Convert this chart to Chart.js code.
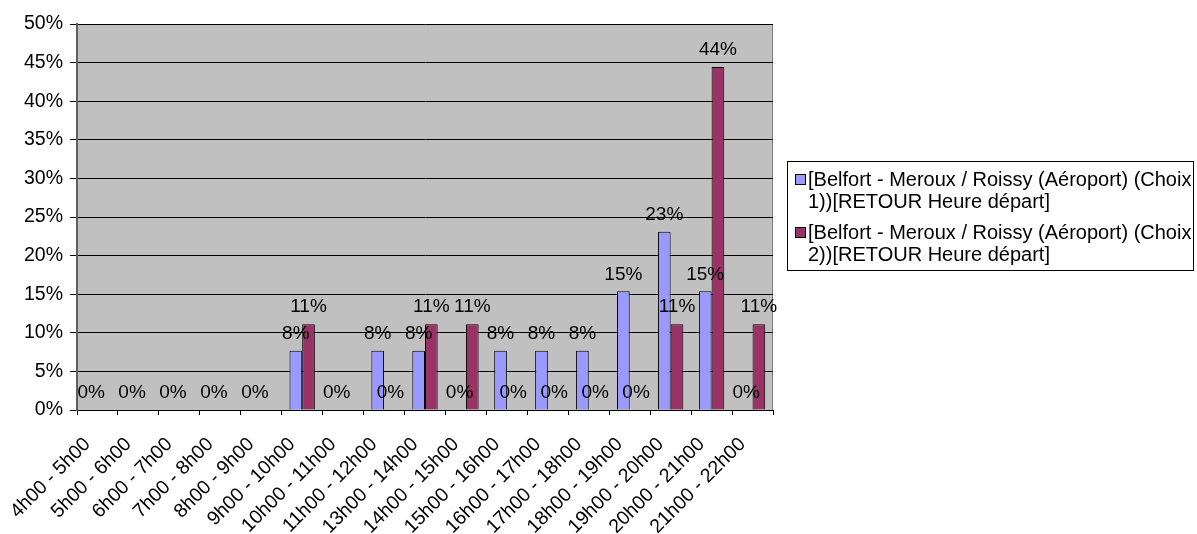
<!DOCTYPE html>
<html>
<head>
<meta charset="utf-8">
<script src="https://cdn.jsdelivr.net/npm/chart.js@4/dist/chart.umd.min.js"></script>
<style>
  body { margin: 0; background: #fff; }
  #wrap { width: 1197px; height: 534px; }
</style>
</head>
<body>
<div id="wrap"><canvas id="grafico" width="1197" height="534"></canvas></div>
<script>
// categories (tranches horaires)
const heures = ['4h00 - 5h00', '5h00 - 6h00', '6h00 - 7h00', '7h00 - 8h00', '8h00 - 9h00',
  '9h00 - 10h00', '10h00 - 11h00', '11h00 - 12h00', '13h00 - 14h00', '14h00 - 15h00',
  '15h00 - 16h00', '16h00 - 17h00', '17h00 - 18h00', '18h00 - 19h00', '19h00 - 20h00',
  '20h00 - 21h00', '21h00 - 22h00'];

// valeurs en %
const choix1 = [0, 0, 0, 0, 0, 7.69, 0, 7.69, 7.69, 0, 7.69, 7.69, 7.69, 15.38, 23.08, 15.38, 0];
const choix2 = [null, null, null, null, null, 11.11, null, 0, 11.11, 11.11, 0, 0, 0, 0, 11.11, 44.44, 11.11];

const nomChoix1 = ['[Belfort - Meroux / Roissy (Aéroport) (Choix', '1))[RETOUR Heure départ]'];
const nomChoix2 = ['[Belfort - Meroux / Roissy (Aéroport) (Choix', '2))[RETOUR Heure départ]'];

const police = "'Liberation Sans', Arial, sans-serif";

// fond gris de la zone de tracé
const fondGris = {
  id: 'fondGris',
  beforeDraw(chart) {
    const { ctx, chartArea: a } = chart;
    ctx.save();
    ctx.fillStyle = '#C0C0C0';
    ctx.fillRect(a.left, a.top, a.right - a.left, a.bottom - a.top);
    ctx.strokeStyle = '#808080';
    ctx.lineWidth = 1;
    ctx.strokeRect(a.left + 0.5, a.top + 0.5, a.right - a.left - 1, a.bottom - a.top);
    ctx.restore();
  }
};

// étiquettes au dessus des barres
const etiquettes = {
  id: 'etiquettes',
  afterDatasetsDraw(chart) {
    const ctx = chart.ctx;
    ctx.save();
    ctx.font = '19px ' + police;
    ctx.fillStyle = '#000';
    ctx.textAlign = 'center';
    ctx.textBaseline = 'middle';
    chart.data.datasets.forEach((ds, i) => {
      chart.getDatasetMeta(i).data.forEach((el, j) => {
        const v = ds.data[j];
        if (v === null) return;
        ctx.fillText(Math.round(v) + '%', el.x, el.y - 17);
      });
    });
    ctx.restore();
  }
};

// légende dessinée à la main (texte sur deux lignes)
const legende = {
  id: 'legende',
  afterDraw(chart) {
    const ctx = chart.ctx;
    const entrees = [
      { couleur: '#9999FF', lignes: nomChoix1 },
      { couleur: '#993366', lignes: nomChoix2 }
    ];
    ctx.save();
    ctx.strokeStyle = '#000';
    ctx.lineWidth = 1;
    ctx.strokeRect(787.5, 161.5, 406, 109);
    ctx.font = '20px ' + police;
    ctx.textBaseline = 'middle';
    entrees.forEach((e, k) => {
      const y0 = 180 + k * 53;
      ctx.fillStyle = e.couleur;
      ctx.fillRect(795, y0 - 6, 11, 11);
      ctx.strokeRect(795.5, y0 - 5.5, 10, 10);
      ctx.fillStyle = '#000';
      ctx.fillText(e.lignes[0], 808, y0);
      ctx.fillText(e.lignes[1], 808, y0 + 22);
    });
    ctx.restore();
  }
};

new Chart(document.getElementById('grafico'), {
  type: 'bar',
  data: {
    labels: heures,
    datasets: [
      { label: nomChoix1.join(' '), data: choix1, backgroundColor: '#9999FF', borderColor: '#000', borderWidth: 1 },
      { label: nomChoix2.join(' '), data: choix2, backgroundColor: '#993366', borderColor: '#000', borderWidth: 1 }
    ]
  },
  options: {
    responsive: false,
    animation: false,
    events: [],
    categoryPercentage: 0.62,
    barPercentage: 1.0,
    layout: { padding: { left: 0, top: 24, right: 424, bottom: 0 } },
    plugins: { legend: { display: false }, tooltip: { enabled: false } },
    scales: {
      x: {
        grid: { drawOnChartArea: false, color: '#000', tickLength: 5, offset: true },
        border: { color: '#000', width: 1 },
        ticks: {
          color: '#000', font: { size: 19.5, family: police },
          autoSkip: false, maxRotation: 45, minRotation: 45, padding: 18, labelOffset: -10
        },
        afterFit(s) { s.height = 124; }
      },
      y: {
        min: 0, max: 50,
        grid: { color: '#000', tickLength: 7 },
        border: { color: '#606060', width: 2 },
        ticks: {
          stepSize: 5, color: '#000', font: { size: 19.5, family: police }, padding: 7,
          callback: v => v + '%'
        },
        afterFit(s) { s.width = 77; }
      }
    }
  },
  plugins: [fondGris, etiquettes, legende]
});
</script>
</body>
</html>
